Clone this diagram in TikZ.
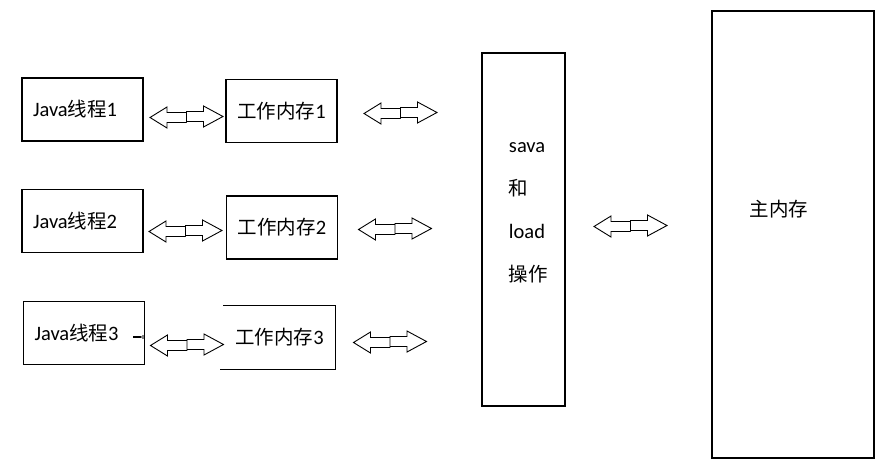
\documentclass[tikz,border=0pt]{standalone}
\usepackage{fontspec}
\setmainfont{Carlito}
\newfontfamily\cjk[Scale=0.95]{Noto Sans CJK SC}
\usetikzlibrary{calc,positioning}
\tikzset{
  box/.style={draw,line width=1.1pt,inner sep=0pt},
  thread/.style={box,minimum width=121,minimum height=63,text width=99pt,align=left},
  work/.style={box,minimum width=111,minimum height=63},
  swaparrow/.pic={
    \draw[line width=.9pt] (0,-4.5)--(-19.5,-4.5)--(-19.5,-10)--(-36.5,.5)--(-19.5,11)--(-19.5,5.5)--(0,5.5);
    \draw[line width=.9pt] (0,5.5)--(0,-5.5)--(17,-5.5)--(17,-11)--(36.5,-.5)--(17,10)--(17,4.5)--(0,4.5);
  }
}
\begin{document}
\begin{tikzpicture}[x=1pt,y=-1pt,font=\fontsize{20.5}{24}\selectfont]
        \useasboundingbox (0,0) rectangle (885,460);
        \node[thread] (java1) at (82.5,109.5) {Java{\cjk 线程}1};
        \node[thread] (java2) at (82.5,221) {Java{\cjk 线程}2};
        \node[thread] (java3) at (84,333) {Java{\cjk 线程}3};
        \node[work] (work1) at (281.5,111) {{\cjk 工作内存}1};
        \node[work] (work2) at (282,227.5) {{\cjk 工作内存}2};
        \node[work,draw=none] (work3) at (279.5,337.5) {{\cjk 工作内存}3};
        \draw[line width=1.1pt] (work3.north west)--(work3.north east)--(work3.south east)--($(work3.south west)+(-3,0)$);
        \node[box,minimum width=83,minimum height=353] (sava) at (523.5,229.5) {};
        \node[anchor=west,align=left,font=\fontsize{20.5}{43}\selectfont] (ops) at ($(sava.west)+(24,-16.5)$) {sava\\{\cjk 和}\\load\\{\cjk 操作}};
        \node[box,minimum width=162,minimum height=447] (main) at (793,234.5) {};
        \node[anchor=west] (mainlbl) at ($(main.west)+(35,-25.5)$) {\cjk 主内存};
        \pic (a1) at (186.5,117) {swaparrow};
        \pic (a2) at (185.5,231) {swaparrow};
        \pic (a3) at (187,345) {swaparrow};
        \pic (b1) at (400.5,113) {swaparrow};
        \pic (b2) at (395,229) {swaparrow};
        \pic (b3) at (390,342) {swaparrow};
        \pic (c) at (630.5,226) {swaparrow};
        \draw[line width=1.5pt] ($(java3.east)+(-12,4)$)--+(8,0);
        \draw[line width=.6pt] ($(java3.east)+(-2,4)$) circle (1.5);
    \end{tikzpicture}
\end{document}
